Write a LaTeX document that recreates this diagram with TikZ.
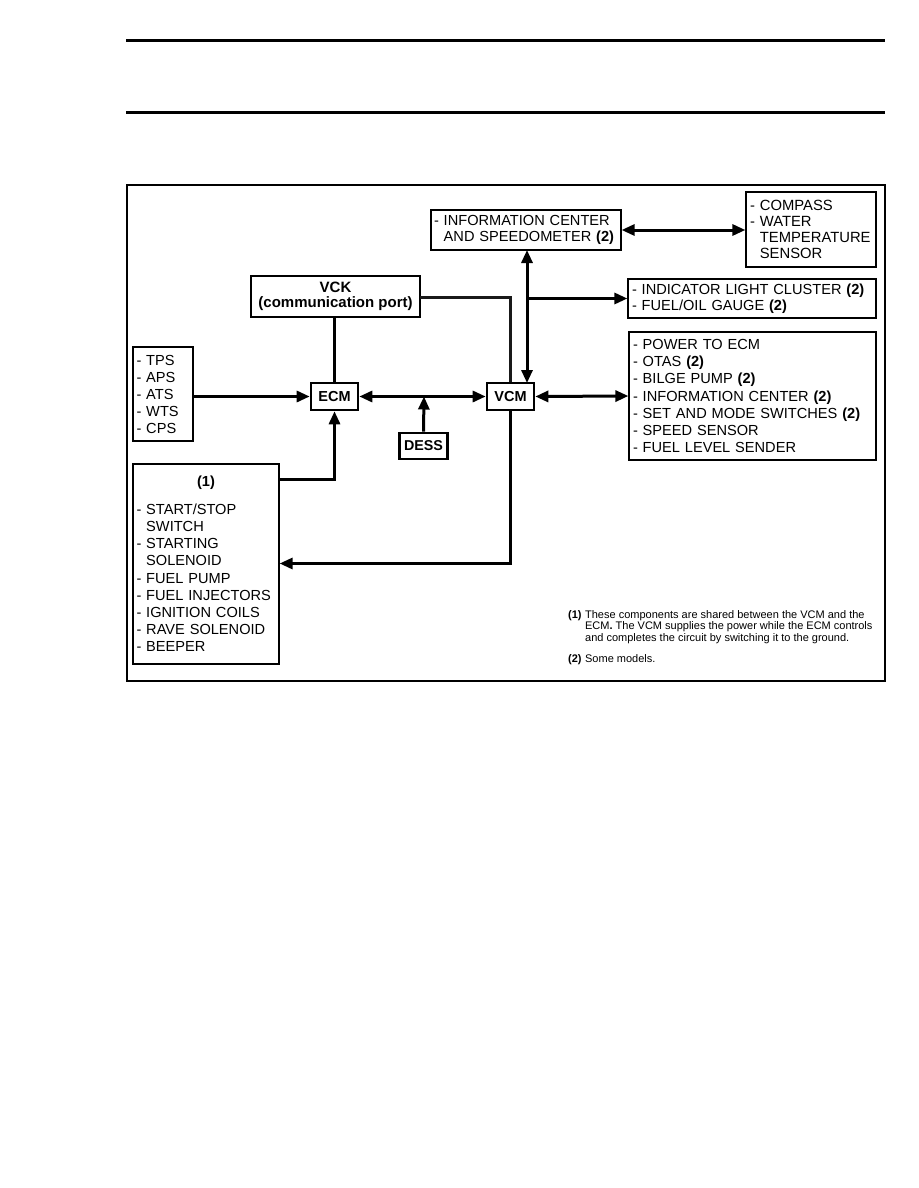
\documentclass[tikz,border=0pt]{standalone}
\usepackage{fontspec}
\setmainfont{Liberation Sans}
\usetikzlibrary{arrows.meta}
\begin{document}
\begin{tikzpicture}[x=1pt,y=-1pt,
  >={Triangle[length=13pt,width=11pt]},
  listbox/.style={draw,line width=1.2pt,rectangle,inner sep=0pt,align=left},
  modbox/.style={draw,line width=2.6pt,rectangle,inner sep=0pt,align=center,font=\bfseries\fontsize{14.5}{14.5}\selectfont},
  conn/.style={line width=3pt},
  thinconn/.style={line width=2.2pt,black!90},
  rule/.style={line width=3pt}]
\useasboundingbox (0,0) rectangle (918,1188);
% page rules
\coordinate (r1a) at (126,41); \coordinate (r1b) at (885,41);
\coordinate (r2a) at (126,113); \coordinate (r2b) at (885,113);
\draw[rule] (r1a) -- (r1b);
\draw[rule] (r2a) -- (r2b);
% frame
\draw[line width=1.6pt] (127,185) rectangle (885,681);

% list boxes
\node[listbox,minimum width=190pt,minimum height=40pt,text width=184pt,font=\fontsize{14.6}{15.7}\selectfont] (info) at (526,230)
  {- INFORMATION CENTER\\\hphantom{- }AND SPEEDOMETER \textbf{(2)}};
\node[listbox,minimum width=130pt,minimum height=75pt,text width=122pt,font=\fontsize{14.8}{15.8}\selectfont] (comp) at (811,229.5)
  {- COMPASS\\- WATER\\\hphantom{- }TEMPERATURE\\\hphantom{- }SENSOR};
\node[listbox,minimum width=248pt,minimum height=39pt,text width=240pt,font=\fontsize{14.6}{15.5}\selectfont] (ind) at (752,298.5)
  {- INDICATOR LIGHT CLUSTER \textbf{(2)}\\- FUEL/OIL GAUGE \textbf{(2)}};
\node[listbox,minimum width=247pt,minimum height=128pt,text width=239pt,font=\fontsize{14.6}{17.3}\selectfont] (pow) at (752.5,396)
  {- POWER TO ECM\\- OTAS \textbf{(2)}\\- BILGE PUMP \textbf{(2)}\\- INFORMATION CENTER \textbf{(2)}\\- SET AND MODE SWITCHES \textbf{(2)}\\- SPEED SENSOR\\- FUEL LEVEL SENDER};
\node[listbox,minimum width=60pt,minimum height=94pt,text width=53pt,font=\fontsize{14.6}{17}\selectfont] (inp) at (163,394)
  {- TPS\\- APS\\- ATS\\- WTS\\- CPS};
\node[listbox,minimum width=146pt,minimum height=200pt,text width=139pt,font=\fontsize{14.6}{17.2}\selectfont] (one) at (206,564)
  {\makebox[\linewidth]{\textbf{(1)}}\\[10.5pt]- START/STOP\\\hphantom{- }SWITCH\\- STARTING\\\hphantom{- }SOLENOID\\- FUEL PUMP\\- FUEL INJECTORS\\- IGNITION COILS\\- RAVE SOLENOID\\- BEEPER};

% module boxes
\node[modbox,minimum width=169pt,minimum height=41pt,font=\bfseries\fontsize{15}{14.5}\selectfont] (vck) at (335.5,296.5) {VCK\\(communication port)};
\node[modbox,minimum width=47pt,minimum height=27pt] (ecm) at (334.5,396.5) {ECM};
\node[modbox,minimum width=47pt,minimum height=27pt] (vcm) at (510.5,396.5) {VCM};
\node[modbox,minimum width=48pt,minimum height=26pt,font=\bfseries\fontsize{14.3}{14.3}\selectfont] (dess) at (423.5,446) {DESS};

% connectors
\coordinate (vckr) at (420,297.5);
\coordinate (vckc) at (510.5,297.5);
\draw[thinconn] (vckr) -- (vckc) -- (vcm.north);
\draw[conn,->] (inp.east |- ecm.west) -- (ecm.west);
\draw[conn] (vck.south -| ecm.north) -- (ecm.north);
\draw[conn,<->] (ecm.east) -- (vcm.west);
\coordinate (dj) at (424,396.5);
\draw[conn,->] (dess.north) -- (dj);
\coordinate (onec) at (334.5,479.5);
\draw[conn,->] (one.east |- onec) -- (onec) -- (ecm.south);
\coordinate (vcmd) at (510.5,563.5);
\draw[conn,->] (vcm.south) -- (vcmd) -- (vcmd -| one.east);
\coordinate (vtop) at (527,383);
\coordinate (ibot) at (527,250);
\draw[conn,<->] (ibot) -- (vtop);
\coordinate (br) at (527,298.5);
\draw[conn,->] (br) -- (ind.west);
\draw[conn,<->] (info.east) -- (info.east -| comp.west);
\draw[conn,<->] (vcm.east) -- (pow.west);

% footnotes
\node[anchor=north west,inner sep=0pt,font=\fontsize{11}{11.9}\selectfont,align=left] (notes) at (568,609.5)
  {\begin{tabular}{@{}l@{\hspace{3.5pt}}l@{}}
   \textbf{(1)} & These components are shared between the VCM and the\\
   & ECM\textbf{.} The VCM supplies the power while the ECM controls\\
   & and completes the circuit by switching it to the ground.\\[9pt]
   \textbf{(2)} & Some models.
   \end{tabular}};
\end{tikzpicture}
\end{document}
